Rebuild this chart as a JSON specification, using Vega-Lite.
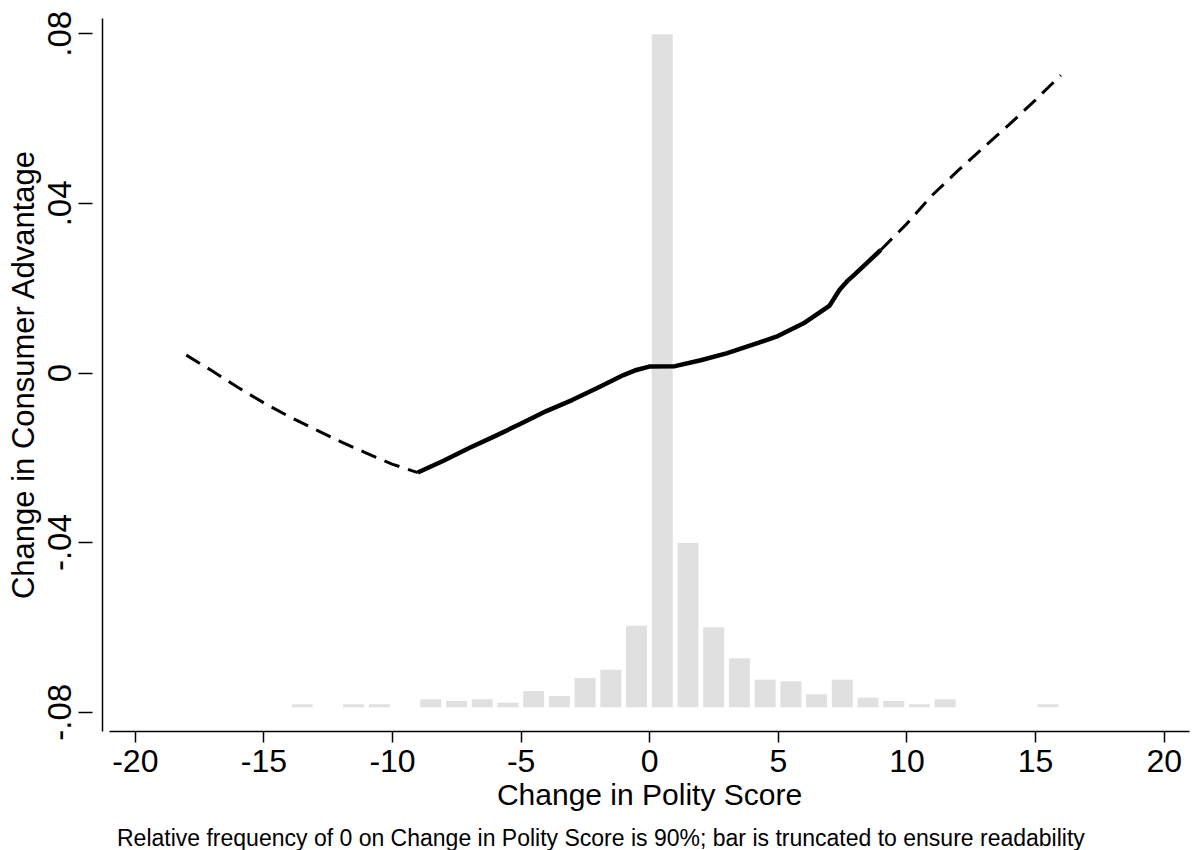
{
  "$schema": "https://vega.github.io/schema/vega-lite/v6.json",
  "width": 1080,
  "height": 713,
  "autosize": {"type": "none"},
  "padding": {"left": 109, "top": 18, "right": 6, "bottom": 119},
  "background": "white",
  "config": {
    "view": {"stroke": null},
    "font": "Liberation Sans, Arial, sans-serif",
    "axis": {"grid": false, "labelColor": "black", "titleColor": "black", "domainColor": "black", "tickColor": "black", "titleFontWeight": "normal", "labelFont": "Liberation Sans, Arial, sans-serif", "titleFont": "Liberation Sans, Arial, sans-serif"}
  },
  "title": {
    "text": "Relative frequency of 0 on Change in Polity Score is 90%; bar is truncated to ensure readability",
    "orient": "bottom", "anchor": "start", "frame": "group", "dx": 8, "offset": 18,
    "fontSize": 23, "fontWeight": "normal", "color": "black", "font": "Liberation Sans, Arial, sans-serif"
  },
  "datasets": {
    "hist": [
      {"polity": -14, "pct": 0.048},
      {"polity": -12, "pct": 0.048},
      {"polity": -11, "pct": 0.048},
      {"polity": -9, "pct": 0.127},
      {"polity": -8, "pct": 0.100},
      {"polity": -7, "pct": 0.127},
      {"polity": -6, "pct": 0.073},
      {"polity": -5, "pct": 0.259},
      {"polity": -4, "pct": 0.180},
      {"polity": -3, "pct": 0.466},
      {"polity": -2, "pct": 0.598},
      {"polity": -1, "pct": 1.297},
      {"polity": 0, "pct": 10.70},
      {"polity": 1, "pct": 2.612},
      {"polity": 2, "pct": 1.272},
      {"polity": 3, "pct": 0.779},
      {"polity": 4, "pct": 0.439},
      {"polity": 5, "pct": 0.413},
      {"polity": 6, "pct": 0.207},
      {"polity": 7, "pct": 0.439},
      {"polity": 8, "pct": 0.153},
      {"polity": 9, "pct": 0.100},
      {"polity": 10, "pct": 0.048},
      {"polity": 11, "pct": 0.127},
      {"polity": 15, "pct": 0.048}
    ],
    "fit": [
      {"part": "lower", "polity": -18, "effect": 0.0041},
      {"part": "lower", "polity": -17, "effect": 0.0004},
      {"part": "lower", "polity": -16, "effect": -0.0035},
      {"part": "lower", "polity": -15, "effect": -0.0071},
      {"part": "lower", "polity": -14, "effect": -0.0104},
      {"part": "lower", "polity": -13, "effect": -0.0134},
      {"part": "lower", "polity": -12, "effect": -0.0163},
      {"part": "lower", "polity": -11, "effect": -0.0190},
      {"part": "lower", "polity": -10, "effect": -0.0216},
      {"part": "lower", "polity": -9, "effect": -0.0236},
      {"part": "observed", "polity": -9, "effect": -0.0236},
      {"part": "observed", "polity": -8, "effect": -0.0208},
      {"part": "observed", "polity": -7, "effect": -0.0178},
      {"part": "observed", "polity": -6, "effect": -0.0150},
      {"part": "observed", "polity": -5, "effect": -0.0121},
      {"part": "observed", "polity": -4, "effect": -0.0091},
      {"part": "observed", "polity": -3, "effect": -0.0065},
      {"part": "observed", "polity": -2, "effect": -0.0036},
      {"part": "observed", "polity": -1, "effect": -0.0006},
      {"part": "observed", "polity": -0.5, "effect": 0.0006},
      {"part": "observed", "polity": 0, "effect": 0.0014},
      {"part": "observed", "polity": 1, "effect": 0.0015},
      {"part": "observed", "polity": 2, "effect": 0.0029},
      {"part": "observed", "polity": 3, "effect": 0.0045},
      {"part": "observed", "polity": 4, "effect": 0.0065},
      {"part": "observed", "polity": 5, "effect": 0.0086},
      {"part": "observed", "polity": 6, "effect": 0.0116},
      {"part": "observed", "polity": 7, "effect": 0.0157},
      {"part": "observed", "polity": 7.4, "effect": 0.0195},
      {"part": "observed", "polity": 7.74, "effect": 0.0218},
      {"part": "observed", "polity": 8, "effect": 0.0232},
      {"part": "observed", "polity": 9, "effect": 0.0289},
      {"part": "upper", "polity": 9, "effect": 0.0289},
      {"part": "upper", "polity": 10, "effect": 0.0350},
      {"part": "upper", "polity": 11, "effect": 0.0418},
      {"part": "upper", "polity": 12, "effect": 0.0476},
      {"part": "upper", "polity": 13, "effect": 0.0531},
      {"part": "upper", "polity": 14, "effect": 0.0585},
      {"part": "upper", "polity": 15, "effect": 0.0642},
      {"part": "upper", "polity": 16, "effect": 0.0701}
    ]
  },
  "layer": [
    {
      "data": {"name": "hist"},
      "mark": {"type": "bar", "color": "#e0e0e0", "width": 21, "xOffset": 13},
      "encoding": {
        "x": {
          "field": "polity", "type": "quantitative",
          "scale": {"domain": [-20.81, 20.79], "nice": false, "zero": false},
          "axis": {
            "values": [-20, -15, -10, -5, 0, 5, 10, 15, 20],
            "labelExpr": "datum.value < 0 ? '-' + abs(datum.value) : '' + datum.value",
            "tickSize": 11, "tickWidth": 1.5, "domainWidth": 1.5,
            "labelFontSize": 32, "labelPadding": 4, "labelFlush": false,
            "title": "Change in Polity Score", "titleFontSize": 30, "titlePadding": 3
          }
        },
        "y": {
          "field": "pct", "type": "quantitative",
          "scale": {"domain": [-0.377, 10.959], "nice": false, "zero": false},
          "axis": {"orient": "left", "offset": 7, "domain": true, "domainWidth": 1.5, "ticks": false, "labels": false, "title": null}
        },
        "y2": {"datum": 0}
      }
    },
    {
      "data": {"name": "fit"},
      "layer": [
        {
          "transform": [{"filter": "datum.part == 'observed'"}],
          "mark": {"type": "line", "color": "black", "strokeWidth": 4.5, "strokeJoin": "round"},
          "encoding": {
            "x": {"field": "polity", "type": "quantitative"},
            "y": {
              "field": "effect", "type": "quantitative",
              "scale": {"domain": [-0.08455, 0.08361], "nice": false, "zero": false},
              "axis": {
                "orient": "left", "offset": 17, "domain": false,
                "values": [-0.08, -0.04, 0, 0.04, 0.08],
                "labelExpr": "datum.value == 0 ? '0' : (datum.value < 0 ? '-' : '') + replace(format(abs(datum.value), '.2f'), '0.', '.')",
                "tickSize": 14, "tickWidth": 1.5,
                "labelAngle": -90, "labelAlign": "center", "labelBaseline": "alphabetic",
                "labelPadding": 8, "labelFontSize": 33, "labelFlush": false,
                "title": "Change in Consumer Advantage", "titleFontSize": 31, "titlePadding": 4
              }
            }
          }
        },
        {
          "transform": [{"filter": "datum.part != 'observed'"}],
          "mark": {"type": "line", "color": "black", "strokeWidth": 3, "strokeDash": [16, 9]},
          "encoding": {
            "x": {"field": "polity", "type": "quantitative"},
            "y": {"field": "effect", "type": "quantitative"},
            "detail": {"field": "part"}
          }
        }
      ]
    }
  ],
  "resolve": {"scale": {"y": "independent"}, "axis": {"y": "independent"}}
}
